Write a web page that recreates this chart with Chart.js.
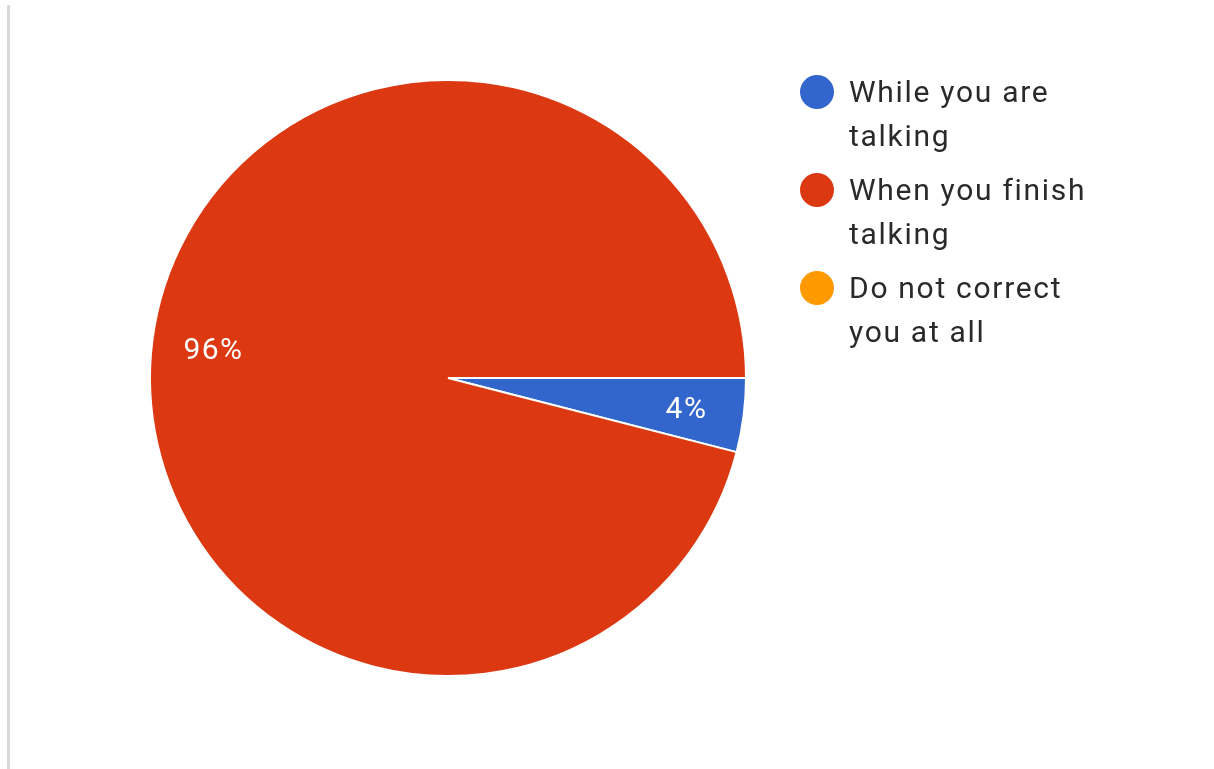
<!DOCTYPE html>
<html>
<head>
<meta charset="utf-8">
<title>Correction timing</title>
<script src="https://cdn.jsdelivr.net/npm/chart.js@4.4.1/dist/chart.umd.min.js"></script>
<style>
  html, body { margin: 0; padding: 0; background: #fff; }
  #wrap { position: relative; width: 1214px; height: 769px; }
  #rule { position: absolute; left: 7px; top: 5px; bottom: 0; width: 3px; background: #d9d9db; }
  canvas { position: absolute; left: 0; top: 0; }
</style>
</head>
<body>
<div id="wrap">
  <div id="rule"></div>
  <canvas id="pie" width="1214" height="769"></canvas>
</div>
<script>
var labels = [
    ['While you are', 'talking'],
    ['When you finish', 'talking'],
    ['Do not correct', 'you at all']
];
var responses = [1, 24, 0];
var colors = ['#3366cc', '#dc3912', '#ff9900'];

var FONT = 'Roboto, "Noto Sans", Arial, sans-serif';

// percentage text inside each slice
var sliceLabels = {
    id: 'sliceLabels',
    afterDatasetsDraw: function (chart) {
        var ctx = chart.ctx;
        var meta = chart.getDatasetMeta(0);
        var data = chart.data.datasets[0].data;
        var total = data.reduce(function (a, b) { return a + b; }, 0);
        ctx.save();
        ctx.fillStyle = '#ffffff';
        ctx.font = '30px ' + FONT;
        ctx.letterSpacing = '1.5px';
        ctx.textAlign = 'center';
        ctx.textBaseline = 'middle';
        meta.data.forEach(function (arc, i) {
            if (!data[i]) return;
            var p = arc.getProps(['x', 'y', 'startAngle', 'endAngle', 'outerRadius']);
            var mid = (p.startAngle + p.endAngle) / 2;
            var r = p.outerRadius * 0.8;
            var pct = Math.round(data[i] / total * 100) + '%';
            ctx.fillText(pct, p.x + Math.cos(mid) * r + 2, p.y + Math.sin(mid) * r + 3);
        });
        ctx.restore();
    }
};

// legend on the right, wrapped onto two lines
var sideLegend = {
    id: 'sideLegend',
    afterDraw: function (chart) {
        var ctx = chart.ctx;
        var x0 = 817, y0 = 92, step = 98, lineH = 44;
        ctx.save();
        ctx.font = '30px ' + FONT;
        ctx.letterSpacing = '1.7px';
        ctx.textBaseline = 'middle';
        ctx.textAlign = 'left';
        chart.data.labels.forEach(function (lines, i) {
            var y = y0 + i * step;
            ctx.fillStyle = colors[i];
            ctx.beginPath();
            ctx.arc(x0, y, 17, 0, Math.PI * 2);
            ctx.fill();
            ctx.fillStyle = '#2a2a2a';
            lines.forEach(function (t, j) {
                ctx.fillText(t, x0 + 32, y + 2 + j * lineH);
            });
        });
        ctx.restore();
    }
};

new Chart(document.getElementById('pie'), {
    type: 'pie',
    data: {
        labels: labels,
        datasets: [{
            data: responses,
            backgroundColor: colors,
            borderColor: '#ffffff',
            borderWidth: 2
        }]
    },
    options: {
        responsive: false,
        animation: false,
        rotation: 90,
        layout: {
            padding: { left: 149, right: 467, top: 79, bottom: 92 }
        },
        plugins: {
            legend: { display: false },
            tooltip: { enabled: false }
        }
    },
    plugins: [sliceLabels, sideLegend]
});
</script>
</body>
</html>
